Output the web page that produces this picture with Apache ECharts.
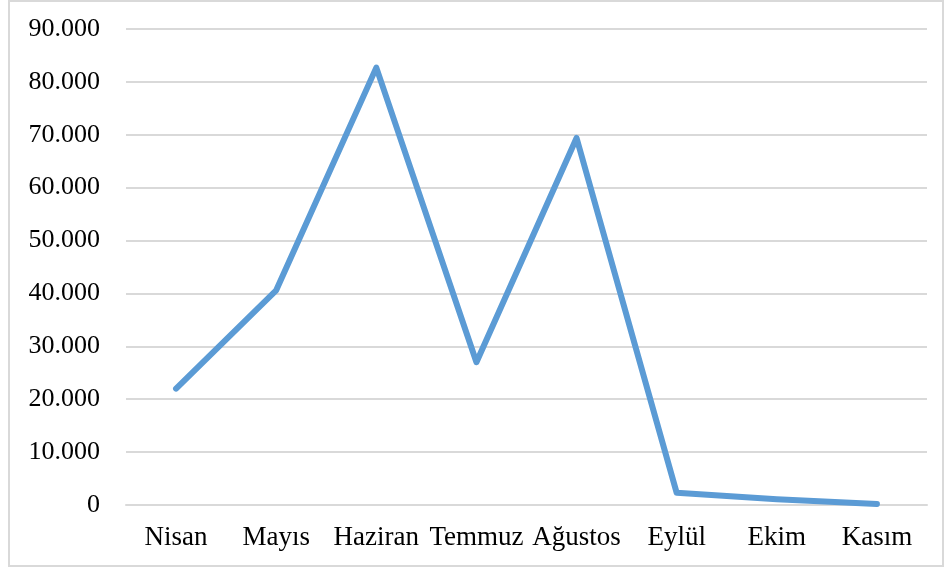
<!DOCTYPE html>
<html>
<head>
<meta charset="utf-8">
<script src="https://cdn.jsdelivr.net/npm/echarts@6/dist/echarts.min.js"></script>
<style>
  html, body { margin: 0; padding: 0; background: #fff; }
  #frame { position: absolute; left: 8px; top: 0px; width: 936px; height: 567px; border: 2px solid #d9d9d9; box-sizing: border-box; }
  #chart { position: absolute; left: 0; top: 0; width: 946px; height: 574px; }
</style>
</head>
<body>
<div id="frame"></div>
<div id="chart"></div>
<script>
const months = ['Nisan', 'Mayıs', 'Haziran', 'Temmuz', 'Ağustos', 'Eylül', 'Ekim', 'Kasım']
const values = [22000, 40600, 82700, 27000, 69400, 2300, 1100, 200]

const chart = echarts.init(document.getElementById('chart'))
const option = {
  animation: false,
  grid: {
    left: 126,
    right: 19,
    top: 29,
    bottom: 69,
    containLabel: false
  },
  xAxis: {
    type: 'category',
    data: months,
    boundaryGap: true,
    axisLine: { show: true, lineStyle: { color: '#d9d9d9', width: 2 } },
    axisTick: { show: false },
    axisLabel: {
      interval: 0,
      color: '#000',
      fontFamily: 'Liberation Serif',
      fontSize: 27,
      margin: 19
    }
  },
  yAxis: {
    type: 'value',
    min: 0,
    max: 90000,
    interval: 10000,
    axisLine: { show: false },
    axisTick: { show: false },
    splitLine: { lineStyle: { color: '#d9d9d9', width: 2 } },
    axisLabel: {
      color: '#000',
      fontFamily: 'Liberation Serif',
      fontSize: 26,
      margin: 26,
      formatter: function(v) {
        return v === 0 ? '0' : String(v).replace(/\B(?=(\d{3})+(?!\d))/g, '.')
      }
    }
  },
  series: [
    {
      type: 'line',
      data: values,
      symbol: 'none',
      lineStyle: { color: '#5b9bd5', width: 6, cap: 'round', join: 'round' }
    }
  ]
}
chart.setOption(option)
</script>
</body>
</html>
